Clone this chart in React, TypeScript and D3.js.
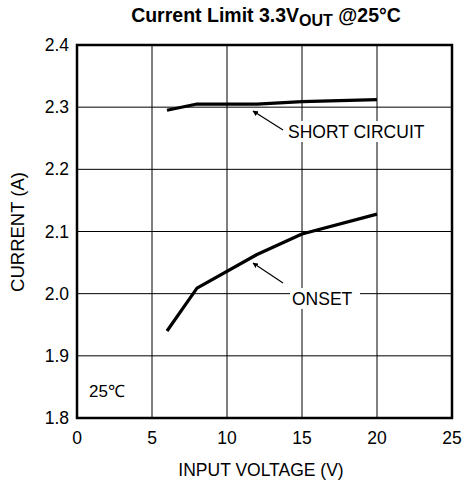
import React from 'react';
import { scaleLinear, line } from 'd3';

// chart values
const xTicks = [0, 5, 10, 15, 20, 25];
const yTicks = [1.8, 1.9, 2.0, 2.1, 2.2, 2.3, 2.4];

const shortCircuitV = [6, 8, 12, 15, 20];
const shortCircuitA = [2.295, 2.305, 2.305, 2.309, 2.312];

const onsetV = [6, 8, 12, 15, 20];
const onsetA = [1.94, 2.009, 2.063, 2.096, 2.128];

const W = 462;
const H = 485;
const margin = { top: 45, right: 10, bottom: 67, left: 77 };
const FONT = 'Liberation Sans, Arial, Helvetica, sans-serif';

const App: React.FC = () => {
  const x = scaleLinear().domain([0, 25]).range([margin.left, W - margin.right]);
  const y = scaleLinear().domain([1.8, 2.4]).range([H - margin.bottom, margin.top]);

  const path = line<[number, number]>()
    .x(d => x(d[0]))
    .y(d => y(d[1]));

  const sc = shortCircuitV.map((v, i) => [v, shortCircuitA[i]] as [number, number]);
  const on = onsetV.map((v, i) => [v, onsetA[i]] as [number, number]);

  return (
    <svg width={W} height={H} style={{ position: 'absolute', left: 0, top: 0, background: '#fff' }} fontFamily={FONT}>
      <defs>
        <marker id="arr" viewBox="0 0 10 10" refX="9" refY="5" markerWidth="4.5" markerHeight="4.5" orient="auto">
          <path d="M0,0 L10,5 L0,10 z" fill="#000" />
        </marker>
      </defs>
      <rect width={W} height={H} fill="#fff" />

      {/* title */}
      <text x={266} y={22} textAnchor="middle" fontSize={19.5} fontWeight="bold" fill="#000">
        Current Limit 3.3V<tspan fontSize={16} dy={4}>OUT</tspan><tspan dy={-4}> @25°C</tspan>
      </text>

      {/* grid */}
      {xTicks.map(t => (
        <line key={'gx' + t} x1={x(t)} x2={x(t)} y1={y(1.8)} y2={y(2.4)} stroke="#000" strokeWidth={1} />
      ))}
      {yTicks.map(t => (
        <line key={'gy' + t} x1={x(0)} x2={x(25)} y1={y(t)} y2={y(t)} stroke="#000" strokeWidth={1} />
      ))}

      {/* annotation labels with white backing */}
      <rect x={286} y={121} width={153} height={21} fill="#fff" />
      <text x={288} y={138} fontSize={17.5} fill="#000">SHORT CIRCUIT</text>
      <rect x={290} y={288} width={70} height={21} fill="#fff" />
      <text x={292} y={305} fontSize={17.5} fill="#000">ONSET</text>

      <line x1={283} y1={130} x2={253} y2={111} stroke="#000" strokeWidth={1.2} markerEnd="url(#arr)" />
      <line x1={283} y1={283} x2={253} y2={263} stroke="#000" strokeWidth={1.2} markerEnd="url(#arr)" />

      {/* curves */}
      <path d={path(sc) || ''} fill="none" stroke="#000" strokeWidth={3.2} strokeLinejoin="round" />
      <path d={path(on) || ''} fill="none" stroke="#000" strokeWidth={3.2} strokeLinejoin="round" />

      {/* frame */}
      <rect x={x(0)} y={y(2.4)} width={x(25) - x(0)} height={y(1.8) - y(2.4)} fill="none" stroke="#000" strokeWidth={2.5} />

      <text x={89} y={397} fontSize={17} fill="#000">25℃</text>

      {/* ticks */}
      {yTicks.map(t => (
        <text key={'ty' + t} x={x(0) - 8} y={y(t) + 6} textAnchor="end" fontSize={17.5} fill="#000">
          {t.toFixed(1)}
        </text>
      ))}
      {xTicks.map(t => (
        <text key={'tx' + t} x={x(t)} y={444} textAnchor="middle" fontSize={17.5} fill="#000">
          {t}
        </text>
      ))}

      <text x={261} y={476} textAnchor="middle" fontSize={17.5} fill="#000">INPUT VOLTAGE (V)</text>
      <text transform={`translate(24,232) rotate(-90)`} textAnchor="middle" fontSize={18.5} fill="#000">CURRENT (A)</text>
    </svg>
  );
};

export default App;
